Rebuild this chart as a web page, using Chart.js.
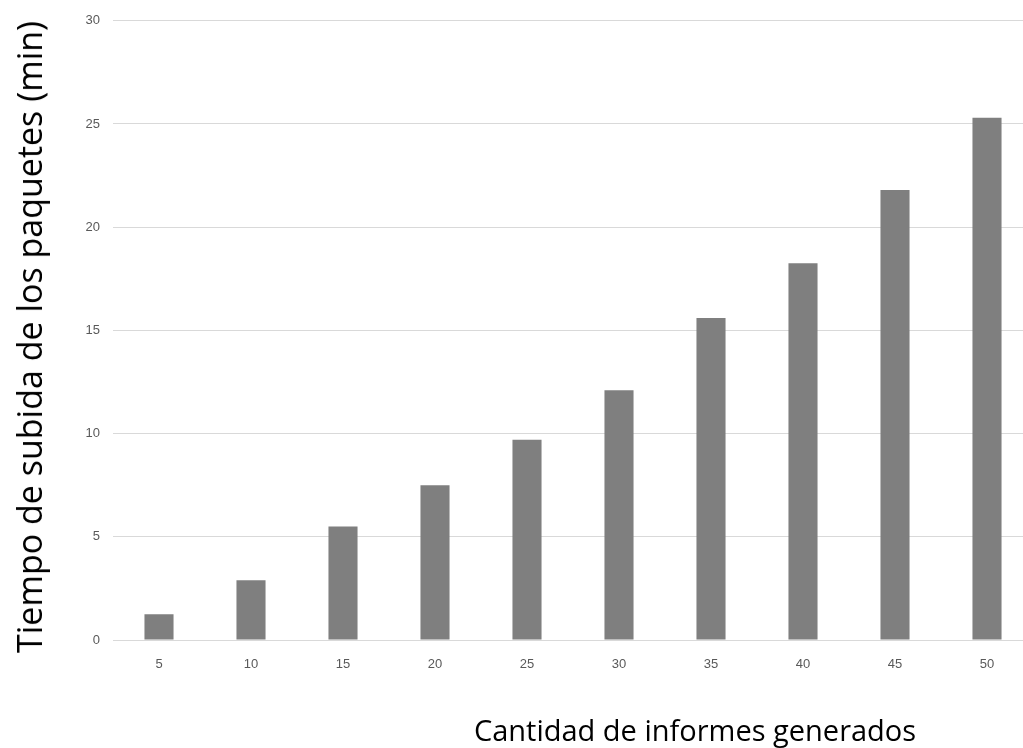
<!DOCTYPE html>
<html>
<head>
<meta charset="utf-8">
<script src="https://cdn.jsdelivr.net/npm/chart.js@4/dist/chart.umd.min.js"></script>
<style>
  html, body { margin: 0; padding: 0; background: #fff; overflow: hidden; width: 1023px; height: 748px; }
  #wrap { position: absolute; left: 0; top: 0; width: 1033px; height: 748px; }
  .title { position: absolute; font-family: "Open Sans", sans-serif; color: #000; white-space: nowrap; }
  #xTitle { left: 695px; top: 729px; font-size: 29px; transform: translate(-50%, -50%); }
  #yTitle { left: 29px; top: 337px; font-size: 34px; transform: translate(-50%, -50%) rotate(-90deg); }
</style>
</head>
<body>
<div id="wrap"><canvas id="chart"></canvas></div>
<div class="title" id="xTitle">Cantidad de informes generados</div>
<div class="title" id="yTitle">Tiempo de subida de los paquetes (min)</div>
<script>
// Number of generated reports (categories)
const informes = ['5', '10', '15', '20', '25', '30', '35', '40', '45', '50'];
// Upload time of the packages, in minutes
const tiempoMin = [1.25, 2.9, 5.5, 7.5, 9.7, 12.1, 15.6, 18.25, 21.8, 25.3];
// Y axis range and step
const yMin = 0, yMax = 30, yStep = 5;

new Chart(document.getElementById('chart'), {
  type: 'bar',
  data: {
    labels: informes,
    datasets: [{
      data: tiempoMin,
      backgroundColor: '#7f7f7f',
      categoryPercentage: 1,
      barPercentage: 0.316
    }]
  },
  options: {
    responsive: true,
    maintainAspectRatio: false,
    animation: false,
    layout: { padding: { left: 0, right: 0, top: 8, bottom: 0 } },
    plugins: { legend: { display: false }, tooltip: { enabled: false } },
    scales: {
      x: {
        grid: { display: false },
        border: { display: false },
        ticks: { color: '#595959', font: { family: 'Liberation Sans', size: 13 }, padding: 9 },
        afterFit: s => { s.height = 108; }
      },
      y: {
        min: yMin, max: yMax,
        grid: { color: '#d9d9d9', drawTicks: false },
        border: { display: false },
        ticks: { stepSize: yStep, color: '#595959', font: { family: 'Liberation Sans', size: 13 }, padding: 13 },
        afterFit: s => { s.width = 113; }
      }
    }
  }
});
</script>
</body>
</html>
